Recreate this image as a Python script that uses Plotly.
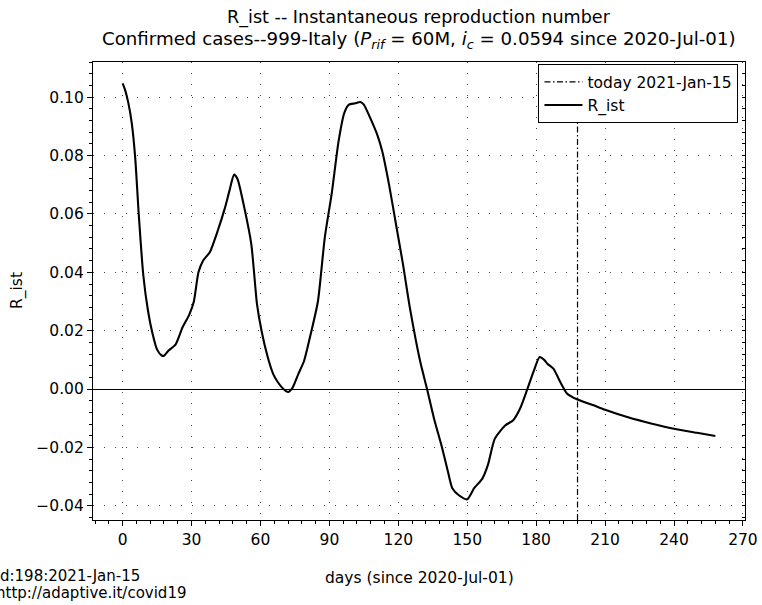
import plotly.graph_objects as go

# ---- data ----
days = [0, 1, 2.5, 4, 5.5, 7, 9, 11, 13, 15, 17, 18, 20, 23, 26, 29, 31, 33,
        35, 38, 41.5, 44.5, 46.5, 48.5, 50, 53, 56, 58.5, 60.5, 63, 65.5,
        67.5, 70, 72, 74, 76.5, 79, 82, 85, 88, 91, 94, 96.5, 98.5, 101,
        103.5, 105, 108, 111, 113, 116, 119, 122, 125, 129.5, 132.5, 135.5,
        139, 141.5, 143.5, 146.5, 150, 153, 156.5, 159, 162, 166.5, 170, 173,
        176, 179, 181.5, 183.5, 185, 187.5, 190.5, 193.5, 198, 205, 210, 220,
        230, 240, 250, 258]
r_ist = [0.1048, 0.1027, 0.0980, 0.0910, 0.0790, 0.0600, 0.0390, 0.0270,
         0.0190, 0.0135, 0.0115, 0.0114, 0.0132, 0.0152, 0.0210, 0.0255,
         0.0300, 0.0400, 0.0440, 0.0470, 0.0545, 0.0620, 0.0680, 0.0735,
         0.0720, 0.0620, 0.0497, 0.0290, 0.0198, 0.0114, 0.0052, 0.0024,
         0.0000, -0.0010, 0.0005, 0.0052, 0.0097, 0.0193, 0.0300, 0.0520,
         0.0670, 0.0850, 0.0947, 0.0975, 0.0979, 0.0984, 0.0975, 0.0925,
         0.0868, 0.0815, 0.0699, 0.0564, 0.0429, 0.0280, 0.0095, 0.0000,
         -0.0100, -0.0200, -0.0280, -0.0340, -0.0365, -0.0378, -0.0340,
         -0.0308, -0.0260, -0.0170, -0.0125, -0.0107, -0.0067, -0.0004,
         0.0063, 0.0110, 0.0100, 0.0086, 0.0070, 0.0024, -0.0016, -0.0036,
         -0.0056, -0.0071, -0.0097, -0.0118, -0.0136, -0.0150, -0.0161]
today_day = 198
today_label = "today 2021-Jan-15"
x_ticks = [0, 30, 60, 90, 120, 150, 180, 210, 240, 270]
y_ticks = [-0.04, -0.02, 0.00, 0.02, 0.04, 0.06, 0.08, 0.10]

FONT = "DejaVu Sans"
FS = 15.5
x_range = [-12.9, 270.9]
y_range = [-0.0449, 0.1121]

# plot-area pixel box (reference)
L, R, T, B = 93, 745, 62, 520
W, H = 762, 605
PW, PH = R - L, B - T


def px(xp):
    return (xp - L) / PW


def py(yp):
    return (B - yp) / PH


fig = go.Figure()
fig.add_trace(go.Scatter(
    x=days, y=r_ist, mode="lines", name="R_ist",
    line=dict(color="black", width=2.1, shape="spline", smoothing=0.6),
    legendrank=2,
))
# helper trace for right-side inward ticks
fig.add_trace(go.Scatter(x=[None], y=[None], yaxis="y2", showlegend=False,
                         hoverinfo="skip"))

# today vertical line (dash-dot)
fig.add_shape(type="line", x0=today_day, x1=today_day, xref="x",
              y0=0, y1=1, yref="paper",
              line=dict(color="black", width=1.2, dash="6px,2.5px,1.5px,2.5px"),
              showlegend=True, name=today_label, legendrank=1)

grid = dict(showgrid=True, gridcolor="#444", gridwidth=1, griddash="1px,10px")

fig.update_layout(
    width=W, height=H,
    margin=dict(l=L, r=W - R, t=T, b=H - B, autoexpand=False),
    plot_bgcolor="white", paper_bgcolor="white",
    font=dict(family=FONT, size=FS, color="black"),
    xaxis=dict(
        range=x_range, tickmode="array", tickvals=x_ticks,
        ticks="outside", ticklen=5, tickwidth=1, tickcolor="black",
        showline=True, linecolor="black", linewidth=1.2, mirror=True,
        zeroline=False, tickfont=dict(size=FS), automargin=False,
        minor=dict(dtick=6, tick0=0, ticks="outside", ticklen=3,
                   tickcolor="black", showgrid=False),
        **grid,
    ),
    yaxis=dict(
        range=y_range, tickmode="array", tickvals=y_ticks, tickformat=".2f",
        ticks="outside", ticklen=5, tickwidth=1, tickcolor="black",
        showline=True, linecolor="black", linewidth=1.2, mirror=True,
        zeroline=True, zerolinecolor="black", zerolinewidth=1,
        tickfont=dict(size=FS), automargin=False,
        minor=dict(dtick=0.004, tick0=0, ticks="outside", ticklen=3,
                   tickcolor="black", showgrid=False),
        **grid,
    ),
    yaxis2=dict(
        range=y_range, overlaying="y", side="right", showgrid=False,
        zeroline=False, showticklabels=False, tickvals=y_ticks,
        ticks="inside", ticklen=3, tickcolor="black", automargin=False,
        minor=dict(dtick=0.004, tick0=0, ticks="inside", ticklen=3,
                   tickcolor="black"),
    ),
    legend=dict(
        x=0.99, y=0.995, xanchor="right", yanchor="top",
        bordercolor="black", borderwidth=1, bgcolor="white",
        font=dict(family=FONT, size=FS), tracegroupgap=0, itemwidth=38,
    ),
    showlegend=True,
)

ann = dict(xref="paper", yref="paper", showarrow=False)
# title lines
fig.add_annotation(text="R_ist -- Instantaneous reproduction number",
                   x=px((L + R) / 2), xanchor="center",
                   y=py(17), yanchor="middle",
                   font=dict(family=FONT, size=17.6), **ann)
fig.add_annotation(text="Confirmed cases--999-Italy (<i>P<sub>rif</sub></i> = 60M, "
                        "<i>i<sub>c</sub></i> = 0.0594 since 2020-Jul-01)",
                   x=px((L + R) / 2), xanchor="center",
                   y=py(40), yanchor="middle",
                   font=dict(family=FONT, size=18.2), **ann)
# axis labels
fig.add_annotation(text="days (since 2020-Jul-01)",
                   x=px((L + R) / 2), xanchor="center",
                   y=py(578), yanchor="middle",
                   font=dict(family=FONT, size=FS), **ann)
fig.add_annotation(text="R_ist", textangle=-90,
                   x=px(17), xanchor="center",
                   y=py(291), yanchor="middle",
                   font=dict(family=FONT, size=FS), **ann)
# footer
fig.add_annotation(text="d:198:2021-Jan-15",
                   x=px(-2), xanchor="left",
                   y=py(576), yanchor="middle",
                   font=dict(family=FONT, size=15), **ann)
fig.add_annotation(text="http://adaptive.it/covid19",
                   x=px(-6), xanchor="left",
                   y=py(593), yanchor="middle",
                   font=dict(family=FONT, size=15), **ann)

fig.write_html("out.html",
               config={"displayModeBar": False},
               post_script="document.body.style.margin='0';"
                           "document.body.style.overflow='hidden';")
